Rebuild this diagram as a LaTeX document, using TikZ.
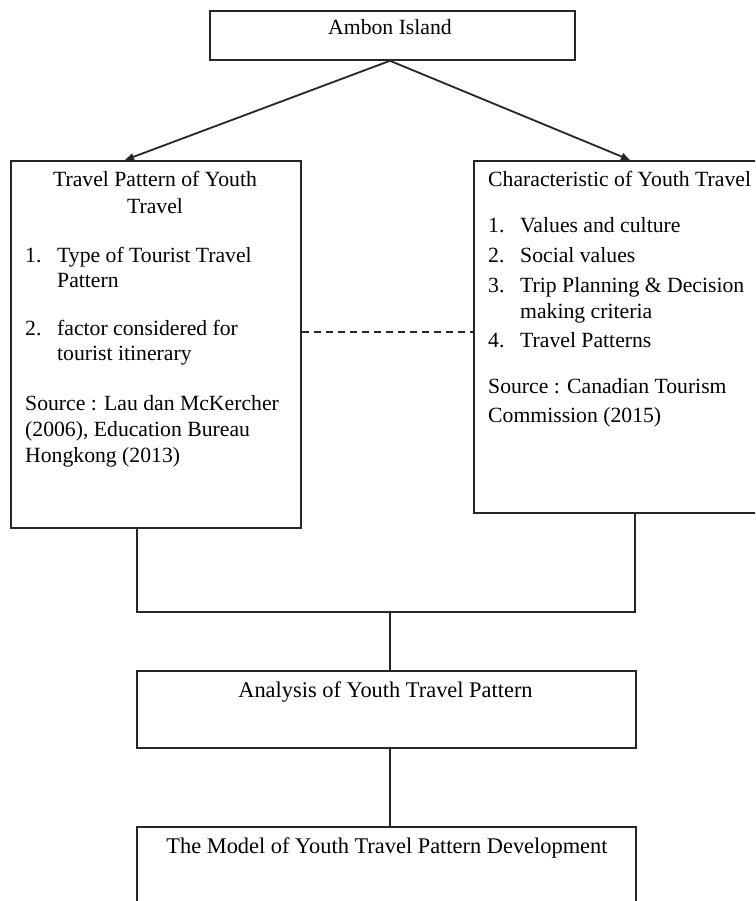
\documentclass[tikz,border=0pt]{standalone}
\usepackage{fontspec}
\setmainfont{Liberation Serif}
\usetikzlibrary{arrows.meta}
\begin{document}
\begin{tikzpicture}[x=1pt,y=-1pt,
  box/.style={draw=black!85, line width=1.8pt, inner sep=0pt, anchor=north west},
  conn/.style={draw=black!85, line width=1.8pt},
  arr/.style={conn, -{Triangle[length=9pt,width=7pt]}},
  dline/.style={draw=black!85, line width=1.8pt, dash pattern=on 7pt off 5pt},
  txt/.style={inner sep=0pt, anchor=base west, text=black, font=\fontsize{21.7}{25}\selectfont},
  ctxt/.style={txt, anchor=base},
  wtxt/.style={ctxt, font=\fontsize{22.4}{25}\selectfont}]
\useasboundingbox (0,0) rectangle (755,901);
\clip (0,0) rectangle (755,901);
\fill[white] (0,0) rectangle (755,901);
% boxes
\node[box, minimum width=365pt, minimum height=49pt] (top) at (209,10) {};
\node[box, minimum width=290pt, minimum height=367pt] (lbox) at (10,160) {};
\node[box, minimum width=300pt, minimum height=352pt] (rbox) at (473,160) {};
\node[box, minimum width=499pt, minimum height=77pt] (ana) at (136,670) {};
\node[box, minimum width=499pt, minimum height=110pt] (model) at (136,826) {};
% texts
\node[ctxt] (ttop) at (390,35) {Ambon Island};
\node[ctxt] (lt1) at (155,187) {Travel Pattern of Youth};
\node[ctxt] (lt2) at (155,214) {Travel};
\node[txt] (ln1) at (25,262) {1.};
\node[txt] (l1a) at (57,262) {Type of Tourist Travel};
\node[txt] (l1b) at (57,287) {Pattern};
\node[txt] (ln2) at (25,335) {2.};
\node[txt] (l2a) at (57,335) {factor considered for};
\node[txt] (l2b) at (57,360) {tourist itinerary};
\node[txt] (ls1) at (25,410) {Source : Lau dan McKercher};
\node[txt] (ls2) at (25,436) {(2006), Education Bureau};
\node[txt] (ls3) at (25,462) {Hongkong (2013)};
\node[txt] (rt) at (488,187) {Characteristic of Youth Travel};
\node[txt] (rn1) at (488,233) {1.};
\node[txt] (r1) at (520,233) {Values and culture};
\node[txt] (rn2) at (488,262) {2.};
\node[txt] (r2) at (520,262) {Social values};
\node[txt] (rn3) at (488,292) {3.};
\node[txt] (r3a) at (520,292) {Trip Planning \& Decision};
\node[txt] (r3b) at (520,318) {making criteria};
\node[txt] (rn4) at (488,347) {4.};
\node[txt] (r4) at (520,347) {Travel Patterns};
\node[txt] (rs1) at (488,393) {Source : Canadian Tourism};
\node[txt] (rs2) at (488,422) {Commission (2015)};
\node[wtxt] (tana) at (385.5,697) {Analysis of Youth Travel Pattern};
\node[wtxt] (tmodel) at (387,853) {The Model of Youth Travel Pattern Development};
% connectors
\coordinate (la) at (125,160);
\coordinate (ra) at (630,160);
\draw[arr] (top.south -| ttop.base) -- (la);
\draw[arr] (top.south -| ttop.base) -- (ra);
\coordinate (dy) at (0,332);
\draw[dline] (dy -| lbox.east) -- (dy -| rbox.west);
\coordinate (jl) at (137,612);
\coordinate (jr) at (635,612);
\coordinate (jm) at (390,612);
\draw[conn] (jl |- lbox.south) -- (jl) -- (jr) -- (jr |- rbox.south);
\draw[conn] (jm) -- (jm |- ana.north);
\draw[conn] (jm |- ana.south) -- (jm |- model.north);
\end{tikzpicture}
\end{document}
